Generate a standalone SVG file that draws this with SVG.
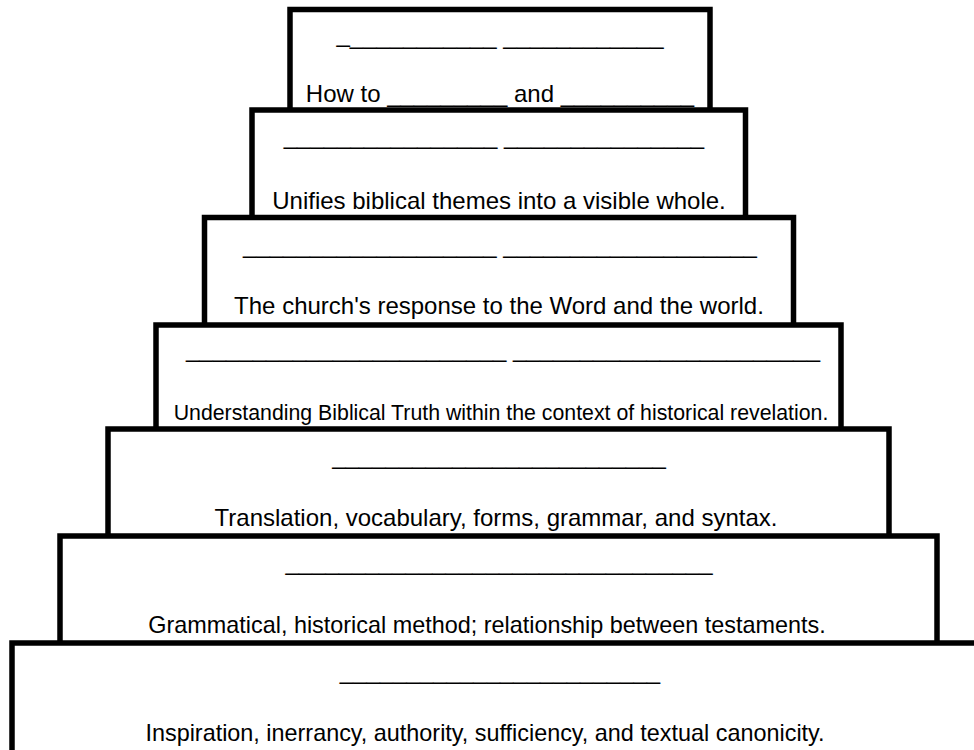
<svg xmlns="http://www.w3.org/2000/svg" width="974" height="750" viewBox="0 0 974 750">
<style>
.box{fill:#fff;stroke:#000;stroke-width:5.5}
text{font-family:"Liberation Sans",Arial,sans-serif;font-size:24px;fill:#000;text-anchor:middle}
.sm{font-size:21.3px}
.md{font-size:23.4px}
</style>
<rect width="974" height="750" fill="#fff"/>
<g id="level1">
<rect class="box" x="290" y="9.5" width="420" height="130"/>
<text x="500" y="44"><tspan dy="-2">_</tspan><tspan dy="2">___________ ____________</tspan></text>
<text x="500" y="102">How to _________ and __________</text>
</g>
<g id="level2">
<rect class="box" x="252" y="110" width="493.5" height="140"/>
<text x="494" y="144">________________ _______________</text>
<text x="499" y="209">Unifies biblical themes into a visible whole.</text>
</g>
<g id="level3">
<rect class="box" x="204.5" y="217.5" width="589" height="140"/>
<text x="500" y="253">___________________ ___________________</text>
<text x="499" y="314">The church's response to the Word and the world.</text>
</g>
<g id="level4">
<rect class="box" x="156" y="325" width="685" height="140"/>
<text x="503" y="357">________________________ _______________________</text>
<text class="sm" x="501" y="420">Understanding Biblical Truth within the context of historical revelation.</text>
</g>
<g id="level5">
<rect class="box" x="108" y="429" width="781" height="140"/>
<text x="499" y="464">_________________________</text>
<text x="496" y="526">Translation, vocabulary, forms, grammar, and syntax.</text>
</g>
<g id="level6">
<rect class="box" x="60" y="536" width="877" height="140"/>
<text x="499" y="570">________________________________</text>
<text class="md" x="487" y="633">Grammatical, historical method; relationship between testaments.</text>
</g>
<g id="level7">
<rect class="box" x="12" y="643" width="1000" height="140"/>
<text x="500" y="679">________________________</text>
<text class="md" x="485" y="741">Inspiration, inerrancy, authority, sufficiency, and textual canonicity.</text>
</g>
<g id="connectors"/>
</svg>
